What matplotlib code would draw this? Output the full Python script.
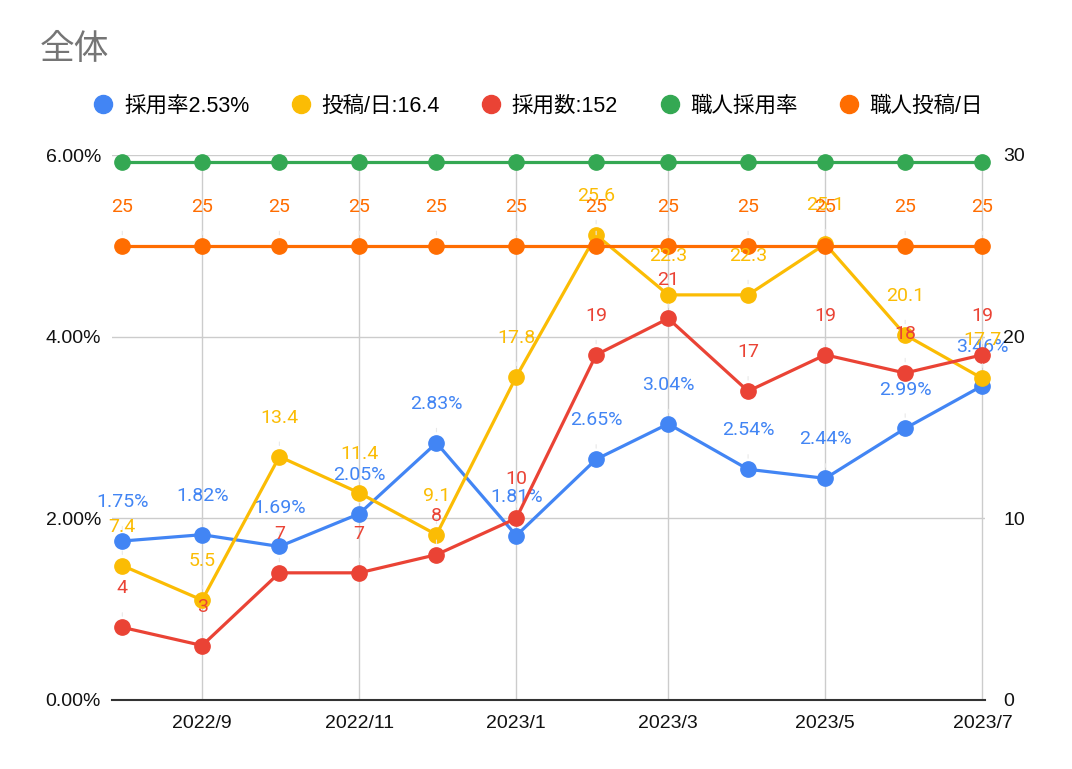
import numpy as np
import matplotlib.pyplot as plt
import matplotlib.dates as mdates
from matplotlib.lines import Line2D
from datetime import date

plt.rcParams['font.family'] = ['Roboto', 'Noto Sans CJK JP', 'DejaVu Sans']

months = [date(2022, 8, 1), date(2022, 9, 1), date(2022, 10, 1), date(2022, 11, 1),
          date(2022, 12, 1), date(2023, 1, 1), date(2023, 2, 1), date(2023, 3, 1),
          date(2023, 4, 1), date(2023, 5, 1), date(2023, 6, 1), date(2023, 7, 1)]
tick_months = months[1::2]
tick_labels = ['2022/9', '2022/11', '2023/1', '2023/3', '2023/5', '2023/7']

saiyo_ritsu = [1.75, 1.82, 1.69, 2.05, 2.83, 1.81, 2.65, 3.04, 2.54, 2.44, 2.99, 3.46]
toko_per_day = [7.4, 5.5, 13.4, 11.4, 9.1, 17.8, 25.6, 22.3, 22.3, 25.1, 20.1, 17.7]
saiyo_su = [4, 3, 7, 7, 8, 10, 19, 21, 17, 19, 18, 19]
shokunin_ritsu = [5.92] * 12
shokunin_toko = [25] * 12

legend_labels = ['採用率2.53%', '投稿/日:16.4', '採用数:152', '職人採用率', '職人投稿/日']
c_blue, c_yellow, c_red, c_green, c_orange = '#4285F4', '#FBBC04', '#EA4335', '#34A853', '#FF6D01'

tick_font = ['Liberation Sans', 'Noto Sans CJK JP']

fig = plt.figure(figsize=(10.72, 7.69), dpi=100)
ax = fig.add_axes([112/1072, 1-700/769, 873/1072, 545/769])
ax2 = ax.twinx()

x = mdates.date2num(months)
ax.set_xlim(mdates.date2num(date(2022, 7, 28)), mdates.date2num(date(2023, 7, 2)))
ax.set_ylim(0, 6)
ax2.set_ylim(0, 30)

for a in (ax, ax2):
    for s in a.spines.values():
        s.set_visible(False)
ax.spines['bottom'].set_visible(True)
ax.spines['bottom'].set_color('#333333')
ax.spines['bottom'].set_linewidth(1.5)

ax.set_yticks([0, 2, 4, 6])
ax.set_yticklabels(['0.00%', '2.00%', '4.00%', '6.00%'])
ax2.set_yticks([0, 10, 20, 30])
ax.grid(axis='y', color='#cccccc', linewidth=1)
ax.set_xticks(mdates.date2num(tick_months))
ax.set_xticklabels(tick_labels)
ax.grid(axis='x', color='#cccccc', linewidth=1)
ax.set_axisbelow(True)
ax.tick_params(axis='both', length=0, labelsize=14, colors='#111111', pad=8)
ax.tick_params(axis='x', pad=11)
ax2.tick_params(axis='y', length=0, labelsize=14, colors='#111111', pad=13)
for lbl in ax.get_xticklabels() + ax.get_yticklabels() + ax2.get_yticklabels():
    lbl.set_family(tick_font)
ax.patch.set_visible(False)
ax2.set_zorder(ax.zorder + 1)
ax2.patch.set_visible(False)


def draw(axis, vals, color, fmt, labels=True):
    axis.plot(x, vals, color=color, linewidth=2.3, marker='o', markersize=11,
              clip_on=False, zorder=3)
    if not labels:
        return
    for xi, v in zip(x, vals):
        axis.annotate(fmt.format(v), (xi, v), xytext=(0, 28), textcoords='offset points',
                      ha='center', va='center', fontsize=14, color=color, zorder=4,
                      arrowprops=dict(arrowstyle='-', color='#e8e8e8', lw=0.8,
                                      shrinkA=9, shrinkB=8))


draw(ax, saiyo_ritsu, c_blue, '{:.2f}%')
draw(ax2, toko_per_day, c_yellow, '{:g}')
draw(ax2, saiyo_su, c_red, '{:g}')
draw(ax, shokunin_ritsu, c_green, '', labels=False)
draw(ax2, shokunin_toko, c_orange, '{:g}')

fig.text(40/1072, 1-50/769, '全体', fontsize=25, color='#757575', va='center', ha='left',
         family=tick_font)

handles = [Line2D([], [], linestyle='none', marker='o', markersize=13, color=c)
           for c in (c_blue, c_yellow, c_red, c_green, c_orange)]
fig.legend(handles, legend_labels, loc='center', bbox_to_anchor=(538/1072, 1-106/769),
           ncol=5, frameon=False, prop={'family': tick_font, 'size': 15.5},
           handletextpad=0.45, columnspacing=1.9, handlelength=1.0)

fig.savefig('out.png', dpi=100, facecolor='white')
